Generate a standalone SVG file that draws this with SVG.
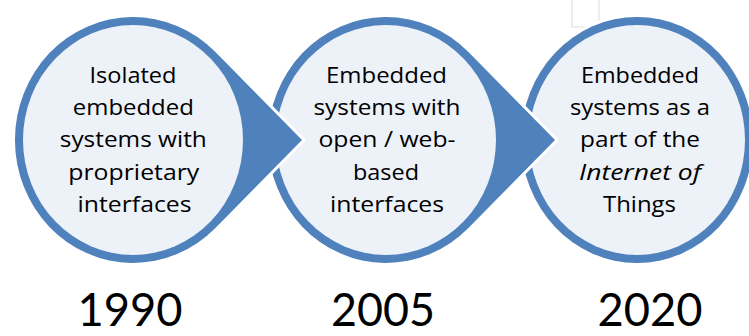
<svg xmlns="http://www.w3.org/2000/svg" width="749" height="336" viewBox="0 0 749 336">
  <defs>
    <style>
      .drop { fill: #4f81bd; stroke: #ffffff; stroke-width: 6; paint-order: stroke; stroke-linejoin: round; }
      .ring { fill: #4f81bd; stroke: #ffffff; stroke-width: 6; paint-order: stroke; }
      .face { fill: #edf1f8; }
      .lbl { font-family: "Open Sans", "Liberation Sans", sans-serif; font-size: 21px; fill: #000000; text-anchor: middle; }
      .year { font-family: Lato, "Open Sans", sans-serif; font-size: 46px; fill: #000000; text-anchor: middle; }
      .frame { fill: none; stroke: #e8e8e8; stroke-width: 1.5; }
    </style>
    <!-- teardrop: ellipse (rx 118, ry 123) with a pointer tip 169px to the right of its centre -->
    <path id="teardrop" d="M169,0 L82.4,-88 A118,123 0 1 0 82.4,88 Z"/>
  </defs>

  <rect width="749" height="336" fill="#ffffff"/>

  <!-- faint frame edge at the top -->
  <path class="frame" d="M572,0 V27 H599 V0"/>

  <!-- nodes are painted right to left so each pointer lies over the next circle -->
  <g id="node-2020">
    <ellipse class="ring" cx="637" cy="140" rx="116" ry="123"/>
    <ellipse class="face" cx="637" cy="140" rx="108" ry="115"/>
    <text class="lbl" x="640" y="83" textLength="118" lengthAdjust="spacingAndGlyphs">Embedded</text>
    <text class="lbl" x="640" y="115.2" textLength="140" lengthAdjust="spacingAndGlyphs">systems as a</text>
    <text class="lbl" x="640" y="147.4" textLength="120" lengthAdjust="spacingAndGlyphs">part of the</text>
    <text class="lbl" x="640" y="179.6" textLength="122" lengthAdjust="spacingAndGlyphs" font-style="italic">Internet of</text>
    <text class="lbl" x="639.5" y="211.8" textLength="73" lengthAdjust="spacingAndGlyphs">Things</text>
    <text class="year" x="650" y="326" textLength="105" lengthAdjust="spacingAndGlyphs">2020</text>
  </g>

  <g id="node-2005">
    <use href="#teardrop" class="drop" transform="translate(386,140)"/>
    <ellipse class="face" cx="386" cy="140" rx="110" ry="115"/>
    <text class="lbl" x="386.5" y="83" textLength="121" lengthAdjust="spacingAndGlyphs">Embedded</text>
    <text class="lbl" x="387" y="115.2" textLength="147" lengthAdjust="spacingAndGlyphs">systems with</text>
    <text class="lbl" x="387" y="147.4" textLength="137" lengthAdjust="spacingAndGlyphs">open / web-</text>
    <text class="lbl" x="386" y="179.6" textLength="66" lengthAdjust="spacingAndGlyphs">based</text>
    <text class="lbl" x="387" y="211.8" textLength="114" lengthAdjust="spacingAndGlyphs">interfaces</text>
    <text class="year" x="383" y="326" textLength="104" lengthAdjust="spacingAndGlyphs">2005</text>
  </g>

  <g id="node-1990">
    <use href="#teardrop" class="drop" transform="translate(133,140)"/>
    <ellipse class="face" cx="133" cy="140" rx="110" ry="115"/>
    <text class="lbl" x="133" y="83" textLength="87" lengthAdjust="spacingAndGlyphs">Isolated</text>
    <text class="lbl" x="133.3" y="115.2" textLength="121" lengthAdjust="spacingAndGlyphs">embedded</text>
    <text class="lbl" x="133.3" y="147.4" textLength="147" lengthAdjust="spacingAndGlyphs">systems with</text>
    <text class="lbl" x="133.8" y="179.6" textLength="131" lengthAdjust="spacingAndGlyphs">proprietary</text>
    <text class="lbl" x="134.5" y="211.8" textLength="114" lengthAdjust="spacingAndGlyphs">interfaces</text>
    <text class="year" x="130" y="326" textLength="105" lengthAdjust="spacingAndGlyphs">1990</text>
  </g>

  <!-- the pointers above carry the flow; no separate connectors -->
  <g id="connectors"/>
</svg>
